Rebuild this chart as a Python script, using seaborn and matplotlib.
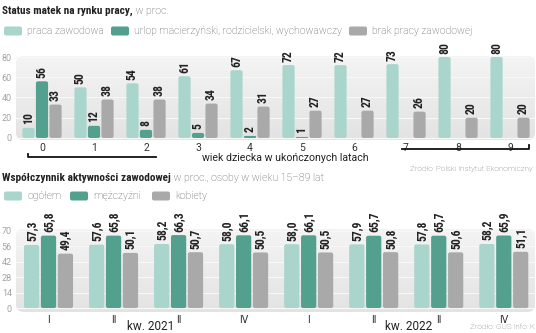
import numpy as np
import pandas as pd
import matplotlib
matplotlib.use("Agg")
import matplotlib.pyplot as plt
import seaborn as sns
from matplotlib import font_manager
from matplotlib.patches import FancyBboxPatch, Rectangle
from matplotlib.colors import LinearSegmentedColormap

# --- mothers' status on the labour market, % (by child's age) ---
child_age = ["0", "1", "2", "3", "4", "5", "6", "7", "8", "9"]
status_series = ["praca zawodowa",
                 "urlop macierzyński, rodzicielski, wychowawczy",
                 "brak pracy zawodowej"]
working = [10, 50, 54, 61, 67, 72, 72, 73, 80, 80]
on_leave = [56, 12, 8, 5, 2, 1, np.nan, np.nan, np.nan, np.nan]
not_working = [33, 38, 38, 34, 31, 27, 27, 26, 20, 20]
status_ticks = [0, 20, 40, 60, 80]

# --- labour force participation rate, %, persons aged 15-89 ---
periods = ["2021 I", "2021 II", "2021 III", "2021 IV",
           "2022 I", "2022 II", "2022 III", "2022 IV"]
quarter_labels = ["I", "II", "II", "IV", "I", "II", "II", "IV"]
activity_series = ["ogółem", "mężczyźni", "kobiety"]
total = [57.3, 57.6, 58.2, 58.0, 58.0, 57.9, 57.8, 58.2]
men = [65.8, 65.8, 66.3, 66.1, 66.1, 65.7, 65.7, 65.9]
women = [49.4, 50.1, 50.7, 50.5, 50.5, 50.8, 50.6, 51.1]
activity_ticks = [0, 14, 28, 42, 56, 70]
year_labels = ["kw. 2021", "kw. 2022"]

palette = ["#a9d5cd", "#53a08f", "#a9a9a9"]

# ---------- fonts ----------
available = {f.name for f in font_manager.fontManager.ttflist}


def pick(cands):
    for c in cands:
        if c in available:
            return c
    return "DejaVu Sans"


COND = pick(["Roboto Condensed", "Liberation Sans Narrow", "Roboto"])
LIGHT = pick(["Roboto", "Lato", "Open Sans", "DejaVu Sans"])

W, H = 536, 333
fig = plt.figure(figsize=(W / 100, H / 100), dpi=100)


def axes_box(left, top, right, bottom):
    return [left / W, 1 - bottom / H, (right - left) / W, (bottom - top) / H]


ax1 = fig.add_axes(axes_box(16, 56, 535, 140))
ax2 = fig.add_axes(axes_box(16, 229, 535, 312))
over = fig.add_axes([0, 0, 1, 1])
over.set_xlim(0, W)
over.set_ylim(H, 0)
over.axis("off")


def long_frame(cats, names, columns):
    rows = []
    for name, vals in zip(names, columns):
        for c, v in zip(cats, vals):
            rows.append({"cat": c, "series": name, "value": v})
    return pd.DataFrame(rows).dropna()


df1 = long_frame(child_age, status_series, [working, on_leave, not_working])
df2 = long_frame(periods, activity_series, [total, men, women])

sns.barplot(data=df1, x="cat", y="value", hue="series", order=child_age,
            hue_order=status_series, palette=palette, saturation=1,
            width=0.78, gap=0.1, errorbar=None, legend=False, ax=ax1)
sns.barplot(data=df2, x="cat", y="value", hue="series", order=periods,
            hue_order=activity_series, palette=palette, saturation=1,
            width=0.78, gap=0.1, errorbar=None, legend=False, ax=ax2)

LIMS = {ax1: ((-0.5, 9.48), (-2, 81)), ax2: ((-0.5, 7.48), (-3.6, 71.8))}
for ax, (xl, yl) in LIMS.items():
    ax.set_xlim(*xl)
    ax.set_ylim(*yl)


def comma1(v):
    return f"{v:.1f}".replace(".", ",")


for ax, fmt in ((ax1, "{:.0f}"), (ax2, comma1)):
    for cont in ax.containers:
        ax.bar_label(cont, fmt=fmt, rotation=90, padding=2.5, fontsize=8.5,
                     fontweight="bold", family=COND, color="#222222",
                     clip_on=False)


def round_bars(ax, radius_px=2.0):
    pos = ax.get_position()
    wpx, hpx = pos.width * W, pos.height * H
    x0, x1 = ax.get_xlim()
    y0, y1 = ax.get_ylim()
    sx, sy = wpx / (x1 - x0), hpx / (y1 - y0)
    for p in list(ax.patches):
        if not isinstance(p, Rectangle):
            continue
        x, y, w, h = p.get_x(), p.get_y(), p.get_width(), p.get_height()
        if not np.isfinite(h) or h <= 0:
            continue
        r = min(radius_px, h * sy / 2, w * sx / 2)
        ax.add_patch(FancyBboxPatch(
            (x, y), w, h, boxstyle=f"round,pad=0,rounding_size={r / sx}",
            mutation_aspect=sx / sy, facecolor=p.get_facecolor(),
            edgecolor="none", zorder=2))
        p.set_visible(False)


bg_cmap = LinearSegmentedColormap.from_list("panel", ["#f4f4f4", "#e3e3e3"])


def panel_background(ax, radius_px=8):
    pos = ax.get_position()
    wpx, hpx = pos.width * W, pos.height * H
    bg = FancyBboxPatch((0, 0), 1, 1,
                        boxstyle=f"round,pad=0,rounding_size={radius_px / wpx}",
                        mutation_aspect=wpx / hpx, transform=ax.transAxes,
                        facecolor="#ececec", edgecolor="none", zorder=0)
    ax.add_patch(bg)
    grad = np.linspace(0, 1, 64).reshape(-1, 1)
    im = ax.imshow(grad, extent=(0, 1, 0, 1), origin="upper", aspect="auto",
                   cmap=bg_cmap, transform=ax.transAxes, zorder=0.1,
                   interpolation="bilinear")
    im.set_clip_path(bg)


for ax, ticks in ((ax1, status_ticks), (ax2, activity_ticks)):
    round_bars(ax)
    panel_background(ax)
    xl, yl = LIMS[ax]
    ax.set_xlim(*xl)
    ax.set_ylim(*yl)
    ax.set_yticks(ticks)
    ax.set_axisbelow(True)
    ax.yaxis.grid(True, color="#f8f8f8", lw=0.8)
    ax.xaxis.grid(False)
    for s in ax.spines.values():
        s.set_visible(False)
    ax.set_xlabel("")
    ax.set_ylabel("")
    ax.tick_params(axis="y", length=0, labelsize=6.5, labelcolor="#a3a3a3",
                   pad=3, labelfontfamily=LIGHT)
    ax.tick_params(axis="x", length=0, labelsize=7.5, labelcolor="#333333",
                   pad=2, labelfontfamily=LIGHT)
    ax.set_facecolor("none")

ax1.set_xticks(range(len(child_age)), child_age)
ax2.set_xticks(range(len(periods)), quarter_labels)


# ---------- titles ----------
def title(y, bold, rest):
    t = over.text(2, y, bold, fontsize=8.1, fontweight="bold", family=COND,
                  va="baseline", ha="left", color="#222222")
    over.annotate(rest, xy=(1, 0), xycoords=t, va="bottom", ha="left",
                  fontsize=7.6, family=LIGHT, fontweight="light", color="#555555")


title(14, "Status matek na rynku pracy,", " w proc.")
title(181, "Współczynnik aktywności zawodowej", " w proc., osoby w wieku 15–89 lat")


# ---------- legends ----------
def legend_item(x, y, color, text):
    over.add_patch(FancyBboxPatch((x, y - 4.5), 18, 9,
                                  boxstyle="round,pad=0,rounding_size=2",
                                  facecolor=color, edgecolor="none"))
    over.text(x + 23, y, text, va="center", ha="left", fontsize=7.5,
              color="#555555", family=LIGHT, fontweight="light")


for x, c, name in zip([4, 111, 349], palette, status_series):
    legend_item(x, 31, c, name)
for x, c, name in zip([4, 70, 152], palette, activity_series):
    legend_item(x, 196, c, name)

# ---------- age-group brackets and axis text ----------
over.plot([28, 28, 156], [154, 157, 157], color="#111111", lw=1.3)
over.plot([402, 529, 529], [149, 149, 145], color="#111111", lw=1.3)
over.text(202, 158, "wiek dziecka w ukończonych latach", va="center",
          ha="left", fontsize=7.6, color="#222222", family=LIGHT)
over.text(533, 168, "Źródło: Polski Instytut Ekonomiczny", va="center",
          ha="right", fontsize=5.8, color="#666666", family=LIGHT,
          fontweight="light")

for x, lab in zip([151, 409], year_labels):
    over.text(x, 326, lab, va="center", ha="center", fontsize=8.5,
              color="#222222", family=LIGHT)
over.text(535, 327, "Źródło: GUS Info: K", va="center", ha="right",
          fontsize=5.8, color="#666666", family=LIGHT, fontweight="light")

fig.savefig("out.png", dpi=100)
